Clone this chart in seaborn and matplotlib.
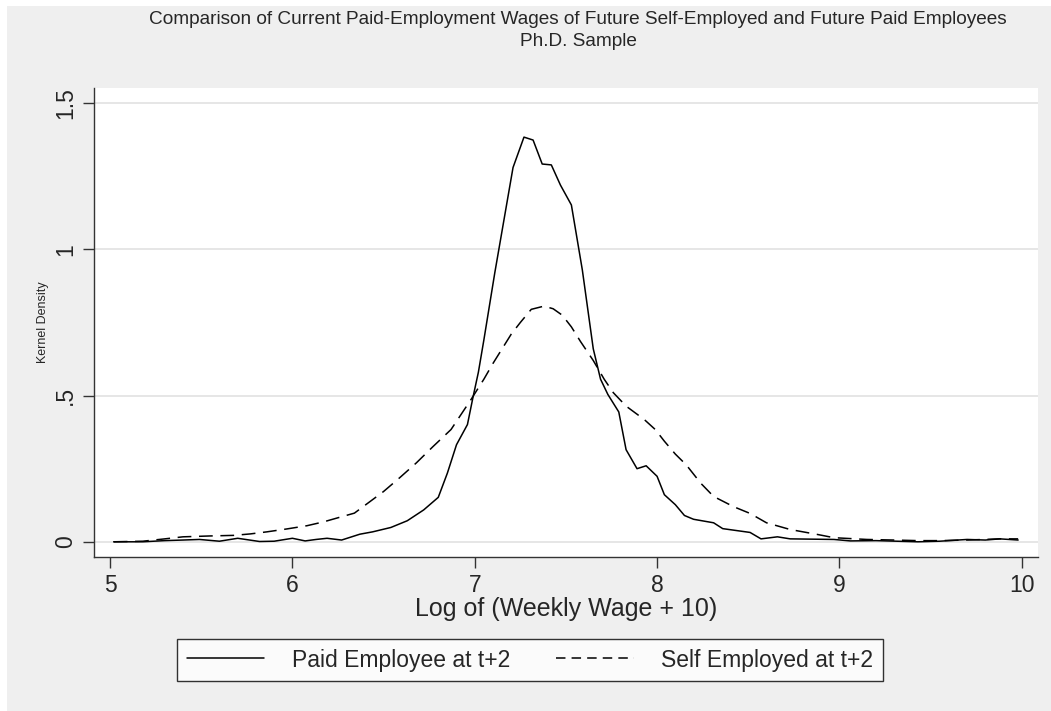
import matplotlib
matplotlib.use("Agg")
import matplotlib.pyplot as plt
from matplotlib.patches import Rectangle
import numpy as np
import pandas as pd
import seaborn as sns

# Kernel density estimates of log weekly wage, by status two years later
paid_x = [5.02, 5.10, 5.18, 5.30, 5.40, 5.49, 5.60, 5.70, 5.82, 5.90, 6.00, 6.07,
          6.13, 6.19, 6.27, 6.37, 6.44, 6.54, 6.63, 6.72, 6.80, 6.85, 6.90, 6.96,
          6.99, 7.02, 7.05, 7.11, 7.16, 7.21, 7.27, 7.32, 7.37, 7.42, 7.47, 7.53,
          7.59, 7.65, 7.69, 7.73, 7.79, 7.83, 7.89, 7.94, 8.00, 8.04, 8.10, 8.15,
          8.20, 8.31, 8.36, 8.51, 8.57, 8.66, 8.73, 8.97, 9.06, 9.20, 9.43, 9.55,
          9.70, 9.80, 9.88, 9.98]
paid_y = [0.000, 0.000, 0.000, 0.004, 0.006, 0.008, 0.002, 0.012, 0.001, 0.002, 0.012, 0.003,
          0.008, 0.012, 0.006, 0.026, 0.034, 0.049, 0.072, 0.109, 0.152, 0.235, 0.332, 0.401,
          0.493, 0.580, 0.690, 0.920, 1.100, 1.280, 1.384, 1.374, 1.292, 1.289, 1.220, 1.152,
          0.930, 0.660, 0.556, 0.504, 0.444, 0.315, 0.250, 0.260, 0.224, 0.161, 0.127, 0.090,
          0.077, 0.065, 0.045, 0.032, 0.010, 0.017, 0.010, 0.008, 0.003, 0.004, 0.000, 0.002,
          0.008, 0.006, 0.010, 0.006]

self_x = [5.02, 5.18, 5.30, 5.40, 5.55, 5.68, 5.77, 5.86, 5.97, 6.08, 6.17, 6.26,
          6.34, 6.42, 6.50, 6.59, 6.68, 6.77, 6.87, 6.98, 7.05, 7.10, 7.15, 7.20,
          7.25, 7.31, 7.38, 7.43, 7.48, 7.53, 7.58, 7.65, 7.71, 7.76, 7.83, 7.93,
          7.99, 8.04, 8.10, 8.16, 8.24, 8.31, 8.42, 8.51, 8.60, 8.73, 8.88, 8.97,
          9.15, 9.30, 9.43, 9.55, 9.70, 9.88, 9.98]
self_y = [0.000, 0.002, 0.010, 0.017, 0.020, 0.022, 0.027, 0.034, 0.044, 0.055, 0.068, 0.084,
          0.098, 0.135, 0.172, 0.220, 0.270, 0.325, 0.384, 0.487, 0.556, 0.610, 0.660, 0.710,
          0.750, 0.795, 0.806, 0.797, 0.775, 0.735, 0.685, 0.620, 0.556, 0.510, 0.464, 0.418,
          0.384, 0.344, 0.300, 0.263, 0.200, 0.155, 0.120, 0.097, 0.065, 0.042, 0.025, 0.014,
          0.008, 0.006, 0.004, 0.004, 0.006, 0.010, 0.010]

series_names = ["Paid Employee at t+2", "Self Employed at t+2"]
x_ticks = [5, 6, 7, 8, 9, 10]
y_ticks = [0, 0.5, 1, 1.5]
y_tick_labels = ["0", ".5", "1", "1.5"]

df = pd.concat([
    pd.DataFrame({"wage": paid_x, "density": paid_y, "group": series_names[0]}),
    pd.DataFrame({"wage": self_x, "density": self_y, "group": series_names[1]}),
], ignore_index=True)

sns.set_theme(style="white")
plt.rcParams["font.family"] = ["Liberation Sans", "DejaVu Sans"]

W, H = 1051, 711
fig = plt.figure(figsize=(W / 100, H / 100), dpi=100)
fig.patch.set_facecolor("white")
# graph region background
fig.add_artist(Rectangle((7 / W, 0), 1 - 7 / W, 1 - 6 / H, transform=fig.transFigure,
                         facecolor="#efefef", edgecolor="none", zorder=0))

ax = fig.add_axes([94 / W, (H - 557) / H, (1038 - 94) / W, (557 - 88) / H])
ax.set_facecolor("white")

for yv in y_ticks:
    ax.axhline(yv, color="#e6e6e6", lw=1.4, zorder=1)

sns.lineplot(data=df, x="wage", y="density", style="group", ax=ax,
             color="black", linewidth=1.1, estimator=None, sort=False,
             dashes={series_names[0]: "", series_names[1]: (9, 5)},
             legend=False, zorder=3)

ax.set_xlim(4.912, 10.089)
ax.set_ylim(-0.052, 1.552)
ax.set_xticks(x_ticks)
ax.set_xticklabels([str(v) for v in x_ticks], fontsize=16.5)
ax.set_yticks(y_ticks)
ax.set_yticklabels(y_tick_labels, fontsize=16.5, rotation=90, va="center")
ax.tick_params(axis="both", direction="out", length=8, width=1, color="#333333",
               left=True, bottom=True, pad=4)

for s in ["top", "right"]:
    ax.spines[s].set_visible(False)
for s in ["left", "bottom"]:
    ax.spines[s].set_color("#333333")
    ax.spines[s].set_linewidth(1)

ax.set_xlabel("Log of (Weekly Wage + 10)", fontsize=18, labelpad=0)
ax.set_ylabel("")
fig.text(43 / W, 1 - 322 / H, "Kernel Density", rotation=90, fontsize=9,
         ha="center", va="center")

fig.text(578 / W, 1 - 20 / H, "Comparison of Current Paid-Employment Wages of Future "
         "Self-Employed and Future Paid Employees", fontsize=13.7, ha="center", va="center")
fig.text(578 / W, 1 - 41 / H, "Ph.D. Sample", fontsize=13.7, ha="center", va="center")

handles = [
    plt.Line2D([], [], color="black", lw=1.1),
    plt.Line2D([], [], color="black", lw=1.1, dashes=(6.2, 4.0)),
]
leg = fig.legend(handles, series_names, loc="center", ncol=2,
                 bbox_to_anchor=(530 / W, 1 - 660 / H), fontsize=16.5,
                 frameon=True, fancybox=False, handlelength=3.4,
                 handletextpad=1.2, columnspacing=2.0, borderpad=0.42)
leg.get_frame().set_edgecolor("black")
leg.get_frame().set_linewidth(1)
leg.get_frame().set_facecolor("white")

fig.savefig("out.png", dpi=100, facecolor=fig.get_facecolor())
